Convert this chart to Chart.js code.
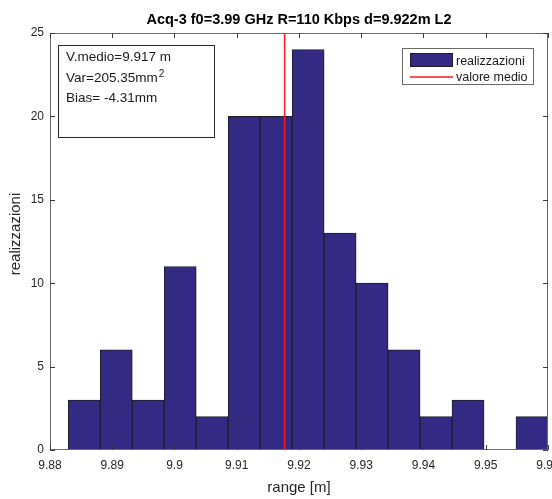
<!DOCTYPE html>
<html>
<head>
<meta charset="utf-8">
<script src="https://cdn.jsdelivr.net/npm/chart.js@4.4.1/dist/chart.umd.min.js"></script>
<style>
  html, body { margin: 0; padding: 0; background: #fff; }
  #wrap { width: 552px; height: 499px; }
</style>
</head>
<body>
<div id="wrap"><canvas id="c" width="552" height="499"></canvas></div>
<script>
// Histogram bins of measured range (bin centres, metres) and counts per bin
const binCenters = [9.885510, 9.890647, 9.895784, 9.900921, 9.906058, 9.911195, 9.916332,
                    9.921469, 9.926606, 9.931743, 9.936880, 9.942017, 9.947154, 9.952291, 9.957428];
const binCounts  = [3, 6, 3, 11, 2, 20, 20, 24, 13, 10, 6, 2, 3, 0, 2];

// Mean of the realisations (vertical line)
const meanValue = 9.91769;

// Axis ticks
const xTicks = [9.88, 9.89, 9.90, 9.91, 9.92, 9.93, 9.94, 9.95, 9.96];
const yTicks = [0, 5, 10, 15, 20, 25];

// Texts
const titleText = 'Acq-3 f0=3.99 GHz R=110 Kbps d=9.922m L2';
const xTitle = 'range [m]';
const yTitle = 'realizzazioni';
const legendLabels = ['realizzazioni', 'valore medio'];
const statsLines = ['V.medio=9.917 m', 'Var=205.35mm', 'Bias= -4.31mm'];

const FONT = '"Liberation Sans", Arial, Helvetica, sans-serif';
const BAR_FILL = '#342a84';
const BAR_EDGE = '#1e1e2a';
const MEAN_COLOR = '#ff1a1a';

const fmtTick = v => String(Number(v.toFixed(2)));

const matlabAxes = {
  id: 'matlabAxes',
  afterDatasetsDraw(chart) {
    const ctx = chart.ctx;
    const a = chart.chartArea;
    const xs = chart.scales.x, ys = chart.scales.y;
    ctx.save();
    // axes box
    ctx.strokeStyle = '#6a6a6a';
    ctx.lineWidth = 1;
    ctx.strokeRect(a.left + 0.5, a.top + 0.5, a.right - a.left - 1, a.bottom - a.top - 1);
    // inward ticks on all four sides
    const tl = 5;
    ctx.strokeStyle = '#3a3a3a';
    ctx.beginPath();
    xTicks.forEach(v => {
      const px = Math.round(xs.getPixelForValue(v)) + 0.5;
      ctx.moveTo(px, a.bottom); ctx.lineTo(px, a.bottom - tl);
      ctx.moveTo(px, a.top); ctx.lineTo(px, a.top + tl);
    });
    yTicks.forEach(v => {
      const py = Math.round(ys.getPixelForValue(v)) + 0.5;
      ctx.moveTo(a.left, py); ctx.lineTo(a.left + tl, py);
      ctx.moveTo(a.right, py); ctx.lineTo(a.right - tl, py);
    });
    ctx.stroke();
    // tick labels
    ctx.fillStyle = '#262626';
    ctx.font = '12px ' + FONT;
    ctx.textAlign = 'center';
    ctx.textBaseline = 'alphabetic';
    xTicks.forEach(v => ctx.fillText(fmtTick(v), xs.getPixelForValue(v), 468.5));
    ctx.textAlign = 'right';
    ctx.textBaseline = 'middle';
    yTicks.forEach(v => ctx.fillText(String(v), 44, ys.getPixelForValue(v)));
    // axis titles
    ctx.font = '15px ' + FONT;
    ctx.textAlign = 'center';
    ctx.textBaseline = 'alphabetic';
    ctx.fillText(xTitle, (a.left + a.right) / 2, 492);
    ctx.save();
    ctx.translate(20, 234);
    ctx.rotate(-Math.PI / 2);
    ctx.fillText(yTitle, 0, 0);
    ctx.restore();
    // title
    ctx.fillStyle = '#000';
    ctx.font = 'bold 14.5px ' + FONT;
    ctx.fillText(titleText, (a.left + a.right) / 2, 24);

    // statistics box
    ctx.fillStyle = '#fff';
    ctx.fillRect(58, 45, 157, 93);
    ctx.strokeStyle = '#2a2a2a';
    ctx.strokeRect(58.5, 45.5, 156, 92);
    ctx.fillStyle = '#1a1a1a';
    ctx.textAlign = 'left';
    ctx.font = '13.5px ' + FONT;
    ctx.fillText(statsLines[0], 66, 61);
    ctx.fillText(statsLines[1], 66, 82);
    const w1 = ctx.measureText(statsLines[1]).width;
    ctx.fillText(statsLines[2], 66, 101.5);
    ctx.font = '10px ' + FONT;
    ctx.fillText('2', 66 + w1 + 1, 77);

    // legend
    ctx.fillStyle = '#fff';
    ctx.fillRect(402, 48, 132, 37);
    ctx.strokeStyle = '#6a6a6a';
    ctx.strokeRect(402.5, 48.5, 131, 36);
    ctx.fillStyle = BAR_FILL;
    ctx.fillRect(410, 53, 43, 14);
    ctx.strokeStyle = BAR_EDGE;
    ctx.strokeRect(410.5, 53.5, 42, 13);
    ctx.strokeStyle = MEAN_COLOR;
    ctx.lineWidth = 1.5;
    ctx.beginPath();
    ctx.moveTo(410, 77); ctx.lineTo(453, 77);
    ctx.stroke();
    ctx.fillStyle = '#1a1a1a';
    ctx.font = '12.5px ' + FONT;
    ctx.fillText(legendLabels[0], 456, 64.5);
    ctx.fillText(legendLabels[1], 456, 81);
    ctx.restore();
  }
};

new Chart(document.getElementById('c'), {
  data: {
    datasets: [
      {
        type: 'line',
        label: legendLabels[1],
        data: [{ x: meanValue, y: yTicks[0] }, { x: meanValue, y: yTicks[yTicks.length - 1] }],
        borderColor: MEAN_COLOR,
        borderWidth: 1.5,
        pointRadius: 0,
        fill: false
      },
      {
        type: 'bar',
        label: legendLabels[0],
        data: binCenters.map((c, i) => ({ x: c, y: binCounts[i] })),
        backgroundColor: BAR_FILL,
        borderColor: BAR_EDGE,
        borderWidth: 1,
        borderSkipped: false,
        barPercentage: 1,
        categoryPercentage: 1
      }
    ]
  },
  options: {
    responsive: false,
    animation: false,
    devicePixelRatio: 1,
    layout: { padding: { left: 50, right: 4, top: 33, bottom: 49 } },
    plugins: { legend: { display: false }, tooltip: { enabled: false }, title: { display: false } },
    scales: {
      x: { type: 'linear', display: false, offset: false, grid: { offset: false },
           min: xTicks[0], max: xTicks[xTicks.length - 1] },
      y: { type: 'linear', display: false, min: yTicks[0], max: yTicks[yTicks.length - 1] }
    }
  },
  plugins: [matlabAxes]
});
</script>
</body>
</html>
